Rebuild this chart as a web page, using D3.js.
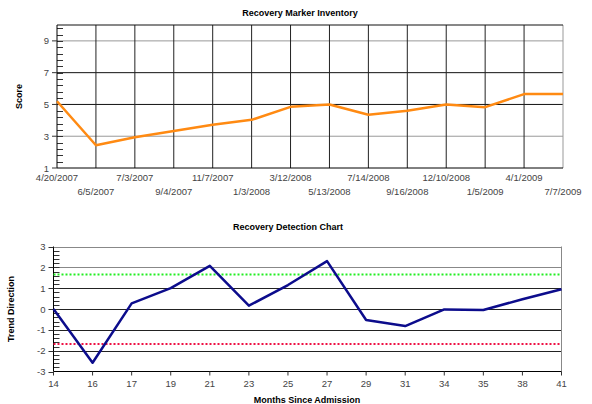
<!doctype html>
<html>
<head>
<meta charset="utf-8">
<script src="https://d3js.org/d3.v7.min.js"></script>
<style>
  body { margin: 0; background: #fff; }
  svg { font-family: "Liberation Sans", Arial, sans-serif; display: block; }
  .tick-label { fill: #444; font-size: 9.5px; }
  .title { font-weight: bold; font-size: 9px; fill: #000; }
</style>
</head>
<body>
<svg width="592" height="404"></svg>
<script>
// top chart data
var visitDates = ["4/20/2007", "6/5/2007", "7/3/2007", "9/4/2007", "11/7/2007", "1/3/2008", "3/12/2008",
                  "5/13/2008", "7/14/2008", "9/16/2008", "12/10/2008", "1/5/2009", "4/1/2009", "7/7/2009"];
var scores = [5.2, 2.43, 2.94, 3.33, 3.72, 4.03, 4.85, 5.0, 4.35, 4.6, 5.0, 4.83, 5.65, 5.65];
var scoreTicks = [1, 3, 5, 7, 9];

// bottom chart data
var months = ["14", "16", "17", "19", "21", "23", "25", "27", "29", "31", "34", "35", "38", "41"];
var trend = [0, -2.58, 0.27, 1.0, 2.07, 0.16, 1.15, 2.3, -0.53, -0.82, -0.02, -0.05, 0.47, 0.95];
var trendTicks = [-3, -2, -1, 0, 1, 2, 3];
var upperLimit = 1.66, lowerLimit = -1.68;

var svg = d3.select("svg");

// ---------- Recovery Marker Inventory ----------
var t = {left: 57, right: 563, top: 25, bottom: 168};
var x1 = d3.scalePoint().domain(visitDates).range([t.left, t.right]);
var y1 = d3.scaleLinear().domain([1, 10]).range([t.bottom, t.top]);

var g1 = svg.append("g");

// horizontal grid
g1.selectAll(".hgrid").data(scoreTicks.slice(1)).enter().append("line")
    .attr("x1", t.left).attr("x2", t.right)
    .attr("y1", function(d) { return y1(d); }).attr("y2", function(d) { return y1(d); })
    .attr("stroke", function(d) { return (d == 5 || d == 7) ? "#111" : "#999"; })
    .attr("stroke-width", 1);

// vertical grid
g1.selectAll(".vgrid").data(visitDates.slice(1)).enter().append("line")
    .attr("x1", function(d) { return x1(d); }).attr("x2", function(d) { return x1(d); })
    .attr("y1", t.top).attr("y2", t.bottom)
    .attr("stroke", function(d, i) { return i == visitDates.length - 2 ? "#999" : "#222"; })
    .attr("stroke-width", 1);

// top border
g1.append("line").attr("x1", t.left).attr("x2", t.right).attr("y1", t.top).attr("y2", t.top)
    .attr("stroke", "#111");

// minor ticks
g1.selectAll(".minor").data(d3.range(1.4, 10, 0.4)).enter().append("line")
    .attr("x1", t.left).attr("x2", t.left + 6)
    .attr("y1", function(d) { return Math.round(y1(d)) + 0.5; })
    .attr("y2", function(d) { return Math.round(y1(d)) + 0.5; })
    .attr("stroke", "#333");

// axes
g1.append("line").attr("x1", t.left).attr("x2", t.left).attr("y1", t.top).attr("y2", t.bottom).attr("stroke", "#000");
g1.append("line").attr("x1", t.left).attr("x2", t.right).attr("y1", t.bottom).attr("y2", t.bottom).attr("stroke", "#000");

g1.selectAll(".ytick").data(scoreTicks).enter().append("line")
    .attr("x1", t.left - 5).attr("x2", t.left)
    .attr("y1", function(d) { return y1(d); }).attr("y2", function(d) { return y1(d); })
    .attr("stroke", "#333");
g1.selectAll(".ylab").data(scoreTicks).enter().append("text")
    .attr("class", "tick-label")
    .attr("x", t.left - 8).attr("y", function(d) { return y1(d) + 3.5; })
    .attr("text-anchor", "end").text(function(d) { return d; });

g1.selectAll(".xlab").data(visitDates).enter().append("text")
    .attr("class", "tick-label")
    .attr("x", function(d) { return x1(d); })
    .attr("y", function(d, i) { return i % 2 == 0 ? t.bottom + 13 : t.bottom + 27; })
    .attr("text-anchor", "middle").text(function(d) { return d; });

g1.append("path")
    .datum(scores)
    .attr("fill", "none")
    .attr("stroke", "#ff8a12")
    .attr("stroke-width", 2.5)
    .attr("stroke-linejoin", "round")
    .attr("d", d3.line().x(function(d, i) { return x1(visitDates[i]); }).y(function(d) { return y1(d); }));

g1.append("text").attr("class", "title").attr("x", 300).attr("y", 16)
    .attr("text-anchor", "middle").text("Recovery Marker Inventory");
g1.append("text").attr("class", "title")
    .attr("transform", "translate(22," + (t.top + t.bottom) / 2 + ") rotate(-90)")
    .attr("text-anchor", "middle").text("Score");

// ---------- Recovery Detection Chart ----------
var b = {left: 53.5, right: 561.5, top: 246.5, bottom: 371.5};
var x2 = d3.scalePoint().domain(months).range([b.left, b.right]);
var y2 = d3.scaleLinear().domain([-3, 3]).range([b.bottom, b.top]);

var g2 = svg.append("g");

g2.selectAll(".hgrid").data(trendTicks.slice(1)).enter().append("line")
    .attr("x1", b.left).attr("x2", b.right)
    .attr("y1", function(d) { return Math.round(y2(d)) + 0.5; })
    .attr("y2", function(d) { return Math.round(y2(d)) + 0.5; })
    .attr("stroke", function(d) { return (d == 3 || d == 2) ? "#888" : "#222"; });

g2.append("line").attr("x1", b.right).attr("x2", b.right).attr("y1", b.top).attr("y2", b.bottom).attr("stroke", "#888");

g2.selectAll(".minor").data(d3.range(-2.8, 3, 0.2)).enter().append("line")
    .attr("x1", b.left).attr("x2", b.left + 6)
    .attr("y1", function(d) { return Math.round(y2(d)) + 0.5; })
    .attr("y2", function(d) { return Math.round(y2(d)) + 0.5; })
    .attr("stroke", "#333");

g2.append("line").attr("x1", b.left).attr("x2", b.left).attr("y1", b.top).attr("y2", b.bottom).attr("stroke", "#000");
g2.append("line").attr("x1", b.left).attr("x2", b.right).attr("y1", b.bottom).attr("y2", b.bottom).attr("stroke", "#000");

g2.selectAll(".ytick").data(trendTicks).enter().append("line")
    .attr("x1", b.left - 5).attr("x2", b.left)
    .attr("y1", function(d) { return Math.round(y2(d)) + 0.5; })
    .attr("y2", function(d) { return Math.round(y2(d)) + 0.5; })
    .attr("stroke", "#333");
g2.selectAll(".ylab").data(trendTicks).enter().append("text")
    .attr("class", "tick-label")
    .attr("x", b.left - 8).attr("y", function(d) { return y2(d) + 3.5; })
    .attr("text-anchor", "end").text(function(d) { return d; });

g2.selectAll(".xtick").data(months).enter().append("line")
    .attr("x1", function(d) { return x2(d); }).attr("x2", function(d) { return x2(d); })
    .attr("y1", b.bottom).attr("y2", b.bottom + 4)
    .attr("stroke", "#333");
g2.selectAll(".xlab").data(months).enter().append("text")
    .attr("class", "tick-label")
    .attr("x", function(d) { return x2(d); }).attr("y", b.bottom + 15)
    .attr("text-anchor", "middle").text(function(d) { return d; });

// control limits
g2.append("line").attr("x1", b.left).attr("x2", b.right)
    .attr("y1", y2(upperLimit)).attr("y2", y2(upperLimit))
    .attr("stroke", "#22ee22").attr("stroke-width", 2).attr("stroke-dasharray", "2,2");
g2.append("line").attr("x1", b.left).attr("x2", b.right)
    .attr("y1", y2(lowerLimit)).attr("y2", y2(lowerLimit))
    .attr("stroke", "#ee1144").attr("stroke-width", 2).attr("stroke-dasharray", "2,2");

g2.append("path")
    .datum(trend)
    .attr("fill", "none")
    .attr("stroke", "#0c0c8c")
    .attr("stroke-width", 2.5)
    .attr("stroke-linejoin", "round")
    .attr("d", d3.line().x(function(d, i) { return x2(months[i]); }).y(function(d) { return y2(d); }));

g2.append("text").attr("class", "title").attr("x", 288).attr("y", 230)
    .attr("text-anchor", "middle").text("Recovery Detection Chart");
g2.append("text").attr("class", "title")
    .attr("transform", "translate(14," + (b.top + b.bottom) / 2 + ") rotate(-90)")
    .attr("text-anchor", "middle").text("Trend Direction");
g2.append("text").attr("class", "title").attr("x", 307).attr("y", 403)
    .attr("text-anchor", "middle").text("Months Since Admission");
</script>
</body>
</html>
